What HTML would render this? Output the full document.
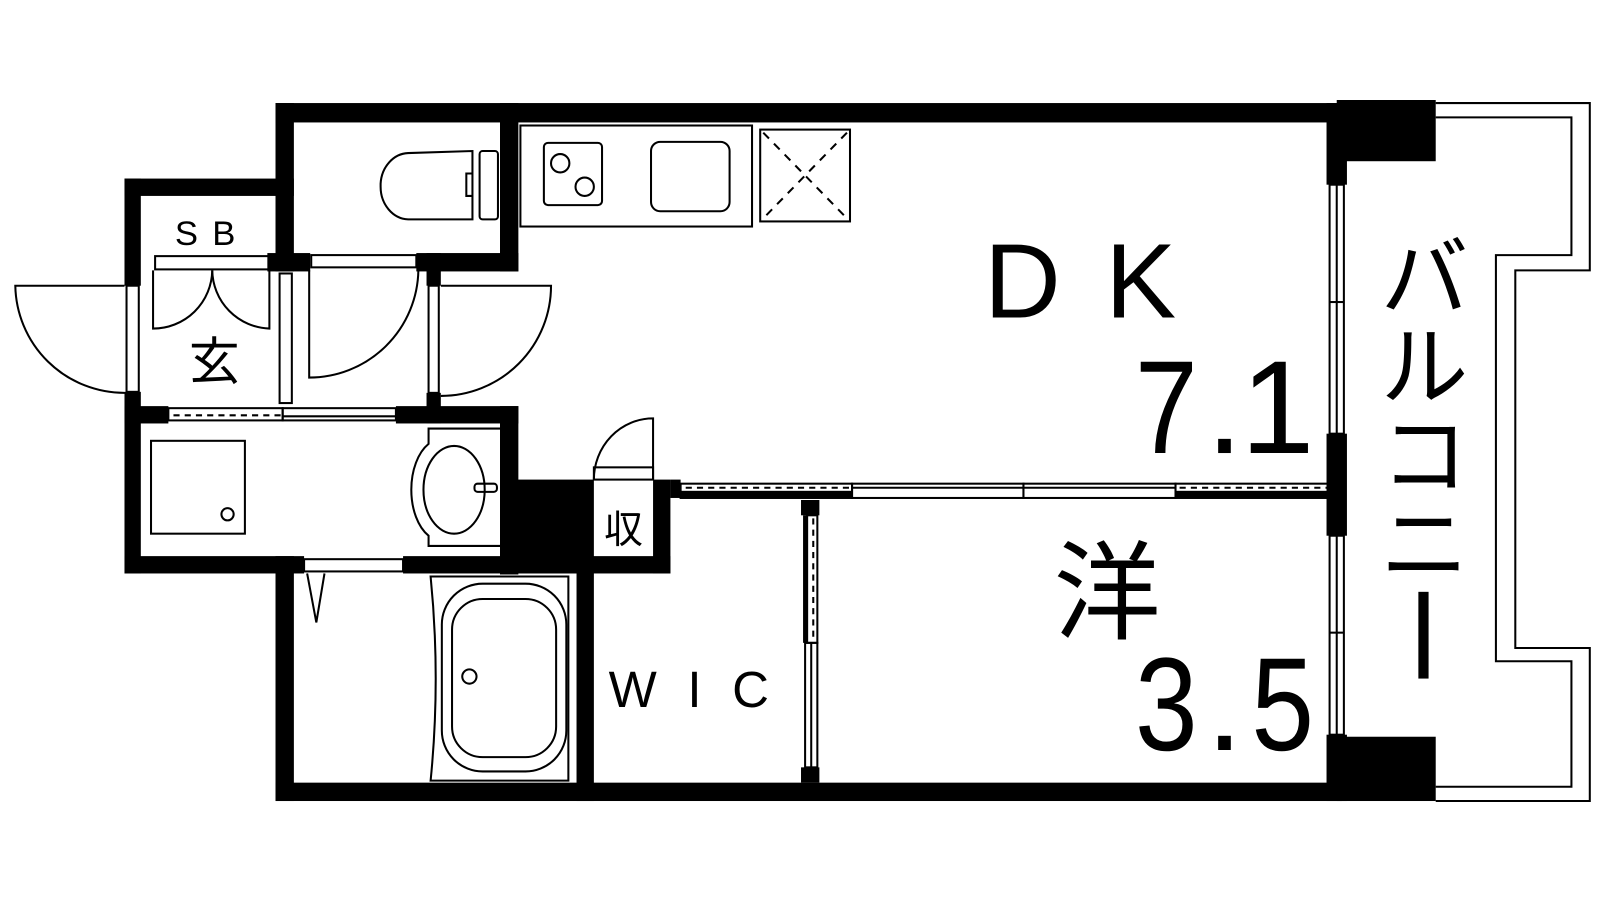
<!DOCTYPE html>
<html><head><meta charset="utf-8"><style>
html,body{margin:0;padding:0;background:#fff;}
svg{display:block;}
text{font-family:"Liberation Sans","Noto Sans CJK JP",sans-serif;fill:#000;}
</style></head><body>
<svg width="1600" height="900" viewBox="0 0 1568 882" preserveAspectRatio="none" xmlns="http://www.w3.org/2000/svg">
<rect width="1568" height="882" fill="#fff"/>
<g fill="#000">
<rect x="270" y="101" width="1045" height="19"/>
<rect x="270" y="101" width="18" height="165"/>
<rect x="122" y="175" width="166" height="17"/>
<rect x="122" y="175" width="16" height="105"/>
<rect x="122" y="384" width="16" height="178"/>
<rect x="490" y="101" width="18" height="165"/>
<rect x="262" y="248" width="42" height="18"/>
<rect x="408" y="248" width="100" height="18"/>
<rect x="418" y="248" width="14" height="32"/>
<rect x="418" y="385" width="14" height="30"/>
<rect x="122" y="398" width="43" height="17"/>
<rect x="388" y="398" width="120" height="17"/>
<rect x="490" y="398" width="18" height="165"/>
<rect x="490" y="470" width="92" height="92"/>
<rect x="640" y="470" width="17" height="92"/>
<rect x="657" y="470" width="10" height="18"/>
<rect x="122" y="545" width="176" height="17"/>
<rect x="395" y="545" width="262" height="17"/>
<rect x="270" y="545" width="18" height="240"/>
<rect x="565" y="545" width="17" height="240"/>
<rect x="270" y="767" width="1045" height="18"/>
<rect x="785" y="490" width="18" height="15"/>
<rect x="785" y="752" width="18" height="15"/>
<rect x="787" y="505" width="4" height="125"/>
<rect x="1300" y="101" width="20" height="80"/>
<rect x="1300" y="425" width="20" height="100"/>
<rect x="1300" y="720" width="20" height="65"/>
<rect x="1310" y="98" width="97" height="60"/>
<rect x="1310" y="722" width="97" height="63"/>
<rect x="667" y="481" width="168" height="7"/>
<rect x="1152" y="481" width="150" height="7"/>
</g>
<g fill="none" stroke="#000" stroke-width="2">
<rect x="1303" y="181" width="14" height="244"/>
<line x1="1310" y1="181" x2="1310" y2="425"/>
<line x1="1303" y1="296" x2="1317" y2="296"/>
<rect x="1303" y="525" width="14" height="195"/>
<line x1="1310" y1="525" x2="1310" y2="720"/>
<line x1="1303" y1="620" x2="1317" y2="620"/>
<polyline points="1407,101 1558,101 1558,265 1485,265 1485,635 1558,635 1558,785 1407,785"/>
<polyline points="1407,115 1540,115 1540,250 1466,250 1466,648 1540,648 1540,771 1407,771"/>
<rect x="152" y="251" width="112" height="13"/>
<path d="M150,265 V322 A58,58 0 0 0 208,265"/>
<path d="M264,265 V322 A58,58 0 0 1 208,265"/>
<rect x="124" y="280" width="12" height="104"/>
<path d="M122,280 H15 A107,107 0 0 0 122,385"/>
<rect x="274" y="268" width="12" height="127"/>
<rect x="305" y="250" width="103" height="12"/>
<path d="M303,265 V370 A107,107 0 0 0 410,265"/>
<rect x="420" y="280" width="10" height="105"/>
<path d="M432,280 H540 A108,108 0 0 1 432,388"/>
<rect x="165" y="400" width="112" height="12"/>
<line x1="170" y1="407" x2="275" y2="407" stroke-dasharray="6,5"/>
<rect x="277" y="400" width="111" height="12"/>
<line x1="277" y1="408" x2="388" y2="408"/>
<rect x="470" y="148" width="18" height="67" rx="3"/>
<path d="M463,148 V215 H400 A28,32 0 0 1 373,183 V180 A28,32 0 0 1 400,150 Z"/>
<path d="M463,170 H457 V192 H463"/>
<rect x="510" y="123" width="227" height="99"/>
<rect x="533" y="140" width="57" height="61" rx="4"/>
<circle cx="549" cy="160" r="9"/><circle cx="573" cy="183" r="9"/>
<rect x="638" y="139" width="77" height="68" rx="9"/>
<rect x="745" y="127" width="88" height="90"/>
<line x1="748" y1="130" x2="830" y2="214" stroke-dasharray="8,7"/>
<line x1="830" y1="130" x2="748" y2="214" stroke-dasharray="8,7"/>
<rect x="148" y="432" width="92" height="91"/>
<circle cx="223" cy="504" r="6"/>
<path d="M490,420 H420 V435 A30,50 0 0 0 420,525 V535 H490"/>
<ellipse cx="445" cy="480" rx="30" ry="43"/>
<rect x="465" y="474" width="22" height="8" rx="3"/>
<rect x="582" y="458" width="58" height="12"/>
<path d="M640,470 V410 A58,60 0 0 0 582,470"/>
<rect x="298" y="548" width="97" height="12"/>
<path d="M301,562 L310,610 L318,562"/>
<path d="M422,565 H557 V765 H422 Q432,665 422,565 Z"/>
<rect x="433" y="572" width="122" height="184" rx="40"/>
<rect x="443" y="587" width="102" height="155" rx="30"/>
<circle cx="460" cy="663" r="7"/>
<rect x="667" y="474" width="168" height="14"/>
<line x1="672" y1="478" x2="835" y2="478" stroke-dasharray="6,5"/>
<rect x="835" y="474" width="168" height="14"/>
<line x1="835" y1="478" x2="1003" y2="478"/>
<rect x="1003" y="474" width="149" height="14"/>
<line x1="1003" y1="478" x2="1152" y2="478"/>
<rect x="1152" y="474" width="150" height="14"/>
<line x1="1156" y1="478" x2="1302" y2="478" stroke-dasharray="6,5"/>
<rect x="791" y="505" width="10" height="125"/>
<line x1="797" y1="508" x2="797" y2="628" stroke-dasharray="6,5"/>
<rect x="789" y="630" width="12" height="122"/>
<line x1="795" y1="630" x2="795" y2="752"/>
</g>
<text x="208" y="240" font-size="34" text-anchor="middle" letter-spacing="14">SB</text>
<text x="210" y="372" font-size="50" text-anchor="middle">玄</text>
<text x="611" y="532" font-size="38" text-anchor="middle">収</text>
<text x="690" y="693" font-size="50" text-anchor="middle" letter-spacing="30">WIC</text>
<text x="1002" y="311" font-size="104" text-anchor="middle">D</text>
<text x="1118" y="311" font-size="104" text-anchor="middle">K</text>
<text x="1143" y="444" font-size="130" text-anchor="middle" transform="translate(1143,0) scale(0.85,1) translate(-1143,0)">7</text>
<text x="1200" y="444" font-size="130" text-anchor="middle">.</text>
<text x="1252" y="444" font-size="130" text-anchor="middle">1</text>
<text x="1085" y="618" font-size="105" text-anchor="middle">洋</text>
<text x="1143" y="735" font-size="130" text-anchor="middle" transform="translate(1143,0) scale(0.85,1) translate(-1143,0)">3</text>
<text x="1200" y="735" font-size="130" text-anchor="middle">.</text>
<text x="1257" y="735" font-size="130" text-anchor="middle" transform="translate(1257,0) scale(0.85,1) translate(-1257,0)">5</text>
<g font-size="86" text-anchor="middle">
<text x="1396" y="303">バ</text>
<text x="1396" y="390">ル</text>
<text x="1396" y="477">コ</text>
<text x="1396" y="564">ニ</text>
</g>
<rect x="1390" y="580" width="10" height="85" fill="#000"/>
</svg>
</body></html>
